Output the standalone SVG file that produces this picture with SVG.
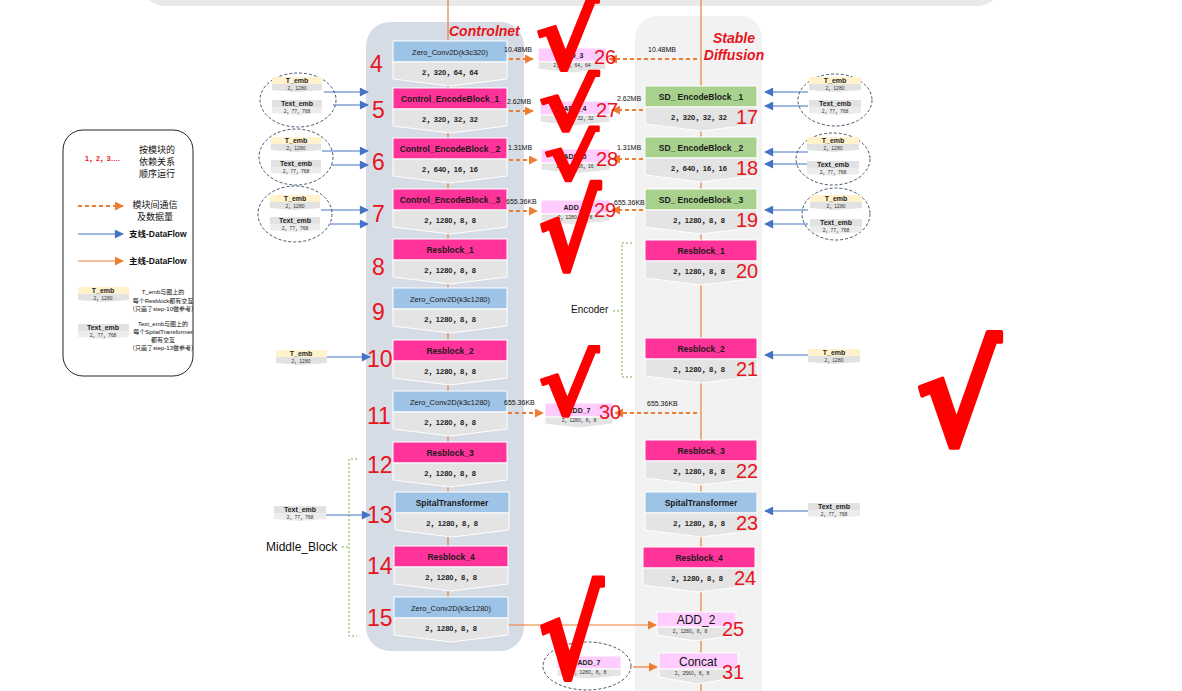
<svg xmlns="http://www.w3.org/2000/svg" width="1182" height="691" viewBox="0 0 1182 691">
<defs>
<marker id="aO" viewBox="0 0 10 10" refX="9" refY="5" markerWidth="9" markerHeight="9" markerUnits="userSpaceOnUse" orient="auto"><path d="M0,0 L10,5 L0,10 z" fill="#ed7d31"/></marker>
<marker id="aB" viewBox="0 0 10 10" refX="9" refY="5" markerWidth="10" markerHeight="9" markerUnits="userSpaceOnUse" orient="auto"><path d="M0,0 L10,5 L0,10 z" fill="#4472c4"/></marker>
<style>
text{font-family:"Liberation Sans","Noto Sans CJK SC",sans-serif}
.hb{fill:#9dc3e6;stroke:#fff;stroke-width:1}
.hp{fill:#ff3399;stroke:#fff;stroke-width:1}
.hg{fill:#a9d18e;stroke:#fff;stroke-width:1}
.ha{fill:#ffccff;stroke:#fff;stroke-width:1}
.bd{fill:#e4e4e4;stroke:#fff;stroke-width:1}
.ht{font-size:8.5px;font-weight:bold;fill:#1a1a1a;text-anchor:middle}
.hz{font-size:7.5px;fill:#1a1a1a;text-anchor:middle}
.bt{font-size:7.5px;font-weight:bold;fill:#222;text-anchor:middle}
.num{font-size:23px;fill:#e8141c}
.nums{font-size:20px;fill:#e8141c}
.lab{font-size:7px;fill:#111}
.ty{fill:#fff2cc}
.tg{fill:#e2e2e2}
.tb{fill:#ececec}
.tt{font-size:7px;font-weight:bold;text-anchor:middle;fill:#222}
.ts{font-size:5px;text-anchor:middle;fill:#333}
.at{font-size:7px;font-weight:bold;text-anchor:middle;fill:#222}
.ell{fill:none;stroke:#44546a;stroke-dasharray:3 2;stroke-width:1}
.ob{stroke:#4472c4;stroke-width:1.2;fill:none;marker-end:url(#aB)}
.od{stroke:#ed7d31;stroke-width:2;stroke-dasharray:4 3;fill:none;marker-end:url(#aO)}
.os{stroke:#ed7d31;stroke-width:1.2;fill:none}
.osa{stroke:#ed7d31;stroke-width:1.2;fill:none;marker-end:url(#aO)}
.gd{stroke:#70ad47;stroke-dasharray:2 2;fill:none;stroke-width:1}
.ttl{font-size:14px;font-weight:bold;font-style:italic;fill:#e8141c}
.lg{font-size:9px;fill:#111;text-anchor:middle}
.lgs{font-size:6px;fill:#111;text-anchor:middle}
.chk{font-family:"DejaVu Sans",sans-serif;font-weight:bold;font-size:100px;fill:#ff0000;stroke:#ff0000;stroke-width:3;stroke-linejoin:round}
</style>
</defs>

<!-- background panels -->
<rect x="140" y="-60" width="862" height="66" rx="25" fill="#e9e9e9"/>
<rect id="controlnet-panel" x="366" y="22" width="158" height="629" rx="24" fill="#d6dce5"/>
<rect id="sd-panel" x="635" y="16" width="127" height="700" rx="22" fill="#f2f2f2"/>
<text class="ttl" x="449" y="36">Controlnet</text>
<text class="ttl" x="734" y="43" text-anchor="middle">Stable</text>
<text class="ttl" x="734" y="60" text-anchor="middle">Diffusion</text>

<!-- connectors -->
<g id="connectors">
<path class="os" d="M448,0 V600"/>
<path class="os" d="M701,0 V691"/>
<path class="osa" d="M508,625 H656"/>
<path class="osa" d="M633,667 H657"/>
<path class="od" d="M509,59 H533"/>
<path class="od" d="M509,111 H533"/>
<path class="od" d="M509,160 H537"/>
<path class="od" d="M509,211 H537"/>
<path class="od" d="M508,413 H543"/>
<path class="od" d="M697,59 H609"/>
<path class="od" d="M643,110 H612"/>
<path class="od" d="M643,159 H612"/>
<path class="od" d="M643,210 H612"/>
<path class="od" d="M697,413 H615"/>
<path class="ob" d="M324,92 H368"/>
<path class="ob" d="M333,105 H368"/>
<path class="ob" d="M322,151 H368"/>
<path class="ob" d="M331,165 H368"/>
<path class="ob" d="M321,210 H368"/>
<path class="ob" d="M330,224 H368"/>
<path class="ob" d="M327,357 H370"/>
<path class="ob" d="M326,515 H370"/>
<path class="ob" d="M808,92 H765"/>
<path class="ob" d="M808,106 H765"/>
<path class="ob" d="M808,152 H765"/>
<path class="ob" d="M808,164 H765"/>
<path class="ob" d="M808,210 H765"/>
<path class="ob" d="M808,224 H765"/>
<path class="ob" d="M808,355 H765"/>
<path class="ob" d="M808,511 H765"/>
<path class="gd" d="M632,243 H622 V377 H632 M613,311 H622"/>
<path class="gd" d="M357,459 H349 V636 H357 M342,547 H349"/>
</g>

<text x="571" y="313" font-size="10" fill="#111">Encoder</text>
<text x="266" y="551" font-size="12" fill="#111">Middle_Block</text>

<!-- ControlNet blocks -->
<g id="cn4"><rect class="hb" x="393" y="41" width="114" height="21"/><polygon class="bd" points="393,62 507,62 507,79 450,86 393,79"/><text class="hz" x="450" y="55">Zero_Conv2D(k3c320)</text><text class="bt" x="450" y="75">2，320，64，64</text><text class="num" x="370" y="72">4</text></g>
<g id="cn5"><rect class="hp" x="393" y="88" width="114" height="21"/><polygon class="bd" points="393,109 507,109 507,126 450,133 393,126"/><text class="ht" x="450" y="102">Control_EncodeBlock_1</text><text class="bt" x="450" y="122">2，320，32，32</text><text class="num" x="372" y="118">5</text></g>
<g id="cn6"><rect class="hp" x="393" y="138" width="114" height="21"/><polygon class="bd" points="393,159 507,159 507,176 450,183 393,176"/><text class="ht" x="450" y="152">Control_EncodeBlock _2</text><text class="bt" x="450" y="172">2，640，16，16</text><text class="num" x="372" y="170">6</text></g>
<g id="cn7"><rect class="hp" x="393" y="189" width="114" height="21"/><polygon class="bd" points="393,210 507,210 507,227 450,234 393,227"/><text class="ht" x="450" y="203">Control_EncodeBlock _3</text><text class="bt" x="450" y="223">2，1280，8，8</text><text class="num" x="372" y="222">7</text></g>
<g id="cn8"><rect class="hp" x="393" y="239" width="114" height="21"/><polygon class="bd" points="393,260 507,260 507,277 450,284 393,277"/><text class="ht" x="450" y="253">Resblock_1</text><text class="bt" x="450" y="273">2，1280，8，8</text><text class="num" x="372" y="275">8</text></g>
<g id="cn9"><rect class="hb" x="393" y="288" width="114" height="21"/><polygon class="bd" points="393,309 507,309 507,326 450,333 393,326"/><text class="hz" x="450" y="302">Zero_Conv2D(k3c1280)</text><text class="bt" x="450" y="322">2，1280，8，8</text><text class="num" x="372" y="320">9</text></g>
<g id="cn10"><rect class="hp" x="393" y="340" width="114" height="21"/><polygon class="bd" points="393,361 507,361 507,378 450,385 393,378"/><text class="ht" x="450" y="354">Resblock_2</text><text class="bt" x="450" y="374">2，1280，8，8</text><text class="num" x="367" y="367">10</text></g>
<g id="cn11"><rect class="hb" x="393" y="391" width="114" height="21"/><polygon class="bd" points="393,412 507,412 507,429 450,436 393,429"/><text class="hz" x="450" y="405">Zero_Conv2D(k3c1280)</text><text class="bt" x="450" y="425">2，1280，8，8</text><text class="num" x="367" y="424">11</text></g>
<g id="cn12"><rect class="hp" x="393" y="442" width="114" height="21"/><polygon class="bd" points="393,463 507,463 507,480 450,487 393,480"/><text class="ht" x="450" y="456">Resblock_3</text><text class="bt" x="450" y="476">2，1280，8，8</text><text class="num" x="367" y="473">12</text></g>
<g id="cn13"><rect class="hb" x="395" y="492" width="114" height="21"/><polygon class="bd" points="395,513 509,513 509,530 452,537 395,530"/><text class="ht" x="452" y="506">SpitalTransformer</text><text class="bt" x="452" y="526">2，1280，8，8</text><text class="num" x="367" y="523">13</text></g>
<g id="cn14"><rect class="hp" x="394" y="546" width="114" height="21"/><polygon class="bd" points="394,567 508,567 508,584 451,591 394,584"/><text class="ht" x="451" y="560">Resblock_4</text><text class="bt" x="451" y="580">2，1280，8，8</text><text class="num" x="367" y="574">14</text></g>
<g id="cn15"><rect class="hb" x="394" y="597" width="114" height="21"/><polygon class="bd" points="394,618 508,618 508,635 451,642 394,635"/><text class="hz" x="451" y="611">Zero_Conv2D(k3c1280)</text><text class="bt" x="451" y="631">2，1280，8，8</text><text class="num" x="367" y="626">15</text></g>

<!-- SD blocks -->
<g id="sd17"><rect class="hg" x="645" y="86" width="112" height="21"/><polygon class="bd" points="645,107 757,107 757,124 701,131 645,124"/><text class="ht" x="701" y="100">SD_ EncodeBlock _1</text><text class="bt" x="699" y="120">2，320，32，32</text><text class="nums" x="736" y="124">17</text></g>
<g id="sd18"><rect class="hg" x="645" y="137" width="112" height="21"/><polygon class="bd" points="645,158 757,158 757,175 701,182 645,175"/><text class="ht" x="701" y="151">SD_ EncodeBlock _2</text><text class="bt" x="699" y="171">2，640，16，16</text><text class="nums" x="736" y="175">18</text></g>
<g id="sd19"><rect class="hg" x="645" y="189" width="112" height="21"/><polygon class="bd" points="645,210 757,210 757,227 701,234 645,227"/><text class="ht" x="701" y="203">SD_ EncodeBlock _3</text><text class="bt" x="699" y="223">2，1280，8，8</text><text class="nums" x="736" y="227">19</text></g>
<g id="sd20"><rect class="hp" x="645" y="240" width="112" height="21"/><polygon class="bd" points="645,261 757,261 757,278 701,285 645,278"/><text class="ht" x="701" y="254">Resblock_1</text><text class="bt" x="699" y="274">2，1280，8，8</text><text class="nums" x="736" y="278">20</text></g>
<g id="sd21"><rect class="hp" x="645" y="338" width="112" height="21"/><polygon class="bd" points="645,359 757,359 757,376 701,383 645,376"/><text class="ht" x="701" y="352">Resblock_2</text><text class="bt" x="699" y="372">2，1280，8，8</text><text class="nums" x="736" y="376">21</text></g>
<g id="sd22"><rect class="hp" x="645" y="440" width="112" height="21"/><polygon class="bd" points="645,461 757,461 757,478 701,485 645,478"/><text class="ht" x="701" y="454">Resblock_3</text><text class="bt" x="699" y="474">2，1280，8，8</text><text class="nums" x="736" y="478">22</text></g>
<g id="sd23"><rect class="hb" x="645" y="492" width="112" height="21"/><polygon class="bd" points="645,513 757,513 757,530 701,537 645,530"/><text class="ht" x="701" y="506">SpitalTransformer</text><text class="bt" x="699" y="526">2，1280，8，8</text><text class="nums" x="736" y="530">23</text></g>
<g id="sd24"><rect class="hp" x="643" y="547" width="112" height="21"/><polygon class="bd" points="643,568 755,568 755,585 699,592 643,585"/><text class="ht" x="699" y="561">Resblock_4</text><text class="bt" x="697" y="581">2，1280，8，8</text><text class="nums" x="734" y="585">24</text></g>
<g id="sd25"><rect class="ha" x="657" y="612" width="79" height="15"/><polygon class="bd" points="657,627 736,627 736,635 696,641 657,635"/><text x="696" y="624" font-size="12" text-anchor="middle" fill="#111">ADD_2</text><text class="ts" x="690" y="633">2，1280，8，8</text><text class="nums" x="722" y="636">25</text></g>
<g id="sd31"><rect class="ha" x="659" y="653" width="79" height="16"/><polygon class="bd" points="659,669 738,669 738,677 698,684 659,677"/><text x="698" y="666" font-size="12" text-anchor="middle" fill="#111">Concat</text><text class="ts" x="692" y="675">2，2560，8，8</text><text class="nums" x="722" y="679">31</text></g>

<!-- ADD boxes -->
<g id="add26"><rect class="ha" x="538" y="48" width="68" height="14"/><polygon class="bd" points="538,62 606,62 606,69 572,73 538,69"/><text class="at" x="572" y="58">ADD_3</text><text class="ts" x="572" y="67">2，320，64，64</text><text class="nums" x="594" y="64">26</text></g>
<g id="add27"><rect class="ha" x="540" y="101" width="70" height="14"/><polygon class="bd" points="540,115 610,115 610,122 575,126 540,122"/><text class="at" x="575" y="111">ADD_4</text><text class="ts" x="575" y="120">2，320，32，32</text><text class="nums" x="596" y="117">27</text></g>
<g id="add28"><rect class="ha" x="541" y="149" width="69" height="14"/><polygon class="bd" points="541,163 610,163 610,170 575,174 541,170"/><text class="at" x="575" y="159">ADD_5</text><text class="ts" x="575" y="168">2，640，16，16</text><text class="nums" x="596" y="166">28</text></g>
<g id="add29"><rect class="ha" x="541" y="200" width="69" height="14"/><polygon class="bd" points="541,214 610,214 610,221 575,225 541,221"/><text class="at" x="575" y="210">ADD_6</text><text class="ts" x="575" y="219">2，1280，8，8</text><text class="nums" x="594" y="217">29</text></g>
<g id="add30"><rect class="ha" x="545" y="403" width="68" height="14"/><polygon class="bd" points="545,417 613,417 613,424 579,428 545,424"/><text class="at" x="579" y="413">ADD_7</text><text class="ts" x="579" y="422">2，1280，8，8</text><text class="nums" x="599" y="419">30</text></g>
<g id="add7b"><ellipse class="ell" cx="587" cy="666" rx="44" ry="24"/><rect class="ha" x="557" y="656" width="64" height="13"/><polygon class="bd" points="557,669 621,669 621,676 589,679 557,676"/><text class="at" x="589" y="665">ADD_7</text><text class="ts" x="589" y="674">2，1280，8，8</text></g>

<!-- data-size labels -->
<g id="sizes" class="lab">
<text x="504" y="52">10.48MB</text>
<text x="507" y="104">2.62MB</text>
<text x="508" y="150">1.31MB</text>
<text x="506" y="204">655.36KB</text>
<text x="504" y="405">655.36KB</text>
<text x="648" y="52">10.48MB</text>
<text x="617" y="101">2.62MB</text>
<text x="617" y="150">1.31MB</text>
<text x="614" y="205">655.36KB</text>
<text x="647" y="406">655.36KB</text>
</g>

<!-- left input groups -->
<g id="inL1"><ellipse class="ell" cx="298" cy="100" rx="38" ry="27"/><rect class="ty" x="272" y="77" width="50" height="7"/><polygon class="tg" points="272,84 322,84 322,90 297,92 272,90"/><text class="tt" x="297" y="83">T_emb</text><text class="ts" x="297" y="89.5">2，1280</text><rect class="tg" x="272" y="100" width="50" height="7"/><polygon class="tb" points="272,107 322,107 322,113 297,115 272,113"/><text class="tt" x="297" y="106">Text_emb</text><text class="ts" x="297" y="112.5">2，77，768</text></g>
<g id="inL2"><ellipse class="ell" cx="296" cy="157" rx="37" ry="28"/><rect class="ty" x="271" y="137" width="50" height="7"/><polygon class="tg" points="271,144 321,144 321,150 296,152 271,150"/><text class="tt" x="296" y="143">T_emb</text><text class="ts" x="296" y="149.5">2，1280</text><rect class="tg" x="271" y="160" width="50" height="7"/><polygon class="tb" points="271,167 321,167 321,173 296,175 271,173"/><text class="tt" x="296" y="166">Text_emb</text><text class="ts" x="296" y="172.5">2，77，768</text></g>
<g id="inL3"><ellipse class="ell" cx="295" cy="214" rx="37" ry="28"/><rect class="ty" x="270" y="195" width="50" height="7"/><polygon class="tg" points="270,202 320,202 320,208 295,210 270,208"/><text class="tt" x="295" y="201">T_emb</text><text class="ts" x="295" y="207.5">2，1280</text><rect class="tg" x="270" y="217" width="50" height="7"/><polygon class="tb" points="270,224 320,224 320,230 295,232 270,230"/><text class="tt" x="295" y="223">Text_emb</text><text class="ts" x="295" y="229.5">2，77，768</text></g>
<g id="inL4"><rect class="ty" x="276" y="350" width="51" height="7"/><polygon class="tg" points="276,357 327,357 327,363 301,365 276,363"/><text class="tt" x="301" y="356">T_emb</text><text class="ts" x="301" y="362.5">2，1280</text></g>
<g id="inL5"><rect class="tg" x="274" y="506" width="52" height="7"/><polygon class="tb" points="274,513 326,513 326,519 300,521 274,519"/><text class="tt" x="300" y="512">Text_emb</text><text class="ts" x="300" y="518.5">2，77，768</text></g>

<!-- right input groups -->
<g id="inR1"><ellipse class="ell" cx="835" cy="100" rx="37" ry="26"/><rect class="ty" x="809" y="77" width="52" height="7"/><polygon class="tg" points="809,84 861,84 861,90 835,92 809,90"/><text class="tt" x="835" y="83">T_emb</text><text class="ts" x="835" y="89.5">2，1280</text><rect class="tg" x="809" y="100" width="52" height="7"/><polygon class="tb" points="809,107 861,107 861,113 835,115 809,113"/><text class="tt" x="835" y="106">Text_emb</text><text class="ts" x="835" y="112.5">2，77，768</text></g>
<g id="inR2"><ellipse class="ell" cx="833" cy="159" rx="37" ry="26"/><rect class="ty" x="807" y="137" width="52" height="7"/><polygon class="tg" points="807,144 859,144 859,150 833,152 807,150"/><text class="tt" x="833" y="143">T_emb</text><text class="ts" x="833" y="149.5">2，1280</text><rect class="tg" x="807" y="161" width="52" height="7"/><polygon class="tb" points="807,168 859,168 859,174 833,176 807,174"/><text class="tt" x="833" y="167">Text_emb</text><text class="ts" x="833" y="173.5">2，77，768</text></g>
<g id="inR3"><ellipse class="ell" cx="836" cy="214" rx="34" ry="26"/><rect class="ty" x="810" y="195" width="52" height="7"/><polygon class="tg" points="810,202 862,202 862,208 836,210 810,208"/><text class="tt" x="836" y="201">T_emb</text><text class="ts" x="836" y="207.5">2，1280</text><rect class="tg" x="810" y="219" width="52" height="7"/><polygon class="tb" points="810,226 862,226 862,232 836,234 810,232"/><text class="tt" x="836" y="225">Text_emb</text><text class="ts" x="836" y="231.5">2，77，768</text></g>
<g id="inR4"><rect class="ty" x="808" y="349" width="52" height="7"/><polygon class="tg" points="808,356 860,356 860,362 834,364 808,362"/><text class="tt" x="834" y="355">T_emb</text><text class="ts" x="834" y="361.5">2，1280</text></g>
<g id="inR5"><rect class="tg" x="808" y="503" width="52" height="7"/><polygon class="tb" points="808,510 860,510 860,516 834,518 808,516"/><text class="tt" x="834" y="509">Text_emb</text><text class="ts" x="834" y="515.5">2，77，768</text></g>

<!-- legend -->
<g id="legend">
<rect x="63" y="130" width="130" height="246" rx="20" fill="#fff" stroke="#222" stroke-width="1"/>
<text x="85" y="161" font-size="7" font-weight="bold" fill="#e8141c">1，2，3….</text>
<text class="lg" x="157" y="153">按模块的</text>
<text class="lg" x="157" y="165">依赖关系</text>
<text class="lg" x="157" y="177">顺序运行</text>
<path class="od" d="M78,206 H123"/>
<text class="lg" x="155" y="208">模块间通信</text>
<text class="lg" x="155" y="220">及数据量</text>
<path class="ob" d="M78,234 H123"/>
<text x="129" y="237" font-size="8.5" font-weight="bold" fill="#111">支线-DataFlow</text>
<path class="osa" d="M78,261 H123"/>
<text x="129" y="264" font-size="8.5" font-weight="bold" fill="#111">主线-DataFlow</text>
<rect class="ty" x="78" y="287" width="51" height="7"/><polygon class="tg" points="78,294 129,294 129,300 103,302 78,300"/><text class="tt" x="103" y="293">T_emb</text><text class="ts" x="103" y="299.5">2，1280</text>
<text class="lgs" x="163" y="294">T_emb与图上的</text>
<text class="lgs" x="163" y="303">每个Resblock都有交互</text>
<text class="lgs" x="163" y="311">（只画了step-10做参考）</text>
<rect class="tg" x="78" y="324" width="51" height="7"/><polygon class="tb" points="78,331 129,331 129,337 103,339 78,337"/><text class="tt" x="103" y="330">Text_emb</text><text class="ts" x="103" y="336.5">2，77，768</text>
<text class="lgs" x="163" y="326">Text_emb与图上的</text>
<text class="lgs" x="163" y="334">每个SpitalTransformer</text>
<text class="lgs" x="163" y="342">都有交互</text>
<text class="lgs" x="163" y="350">（只画了step-13做参考）</text>
</g>

<!-- check marks -->
<g id="checks">
<text class="chk" transform="translate(535,69) scale(0.95,0.87)">√</text>
<text class="chk" transform="translate(538,130) scale(0.91,0.71)">√</text>
<text class="chk" transform="translate(543,180) scale(0.83,0.64)">√</text>
<text class="chk" transform="translate(538,270) scale(0.94,1.06)">√</text>
<text class="chk" transform="translate(538,415) scale(0.91,0.82)">√</text>
<text class="chk" transform="translate(915,445) scale(1.29,1.35)">√</text>
<text class="chk" transform="translate(538,678) scale(0.98,1.2)">√</text>
</g>
</svg>
